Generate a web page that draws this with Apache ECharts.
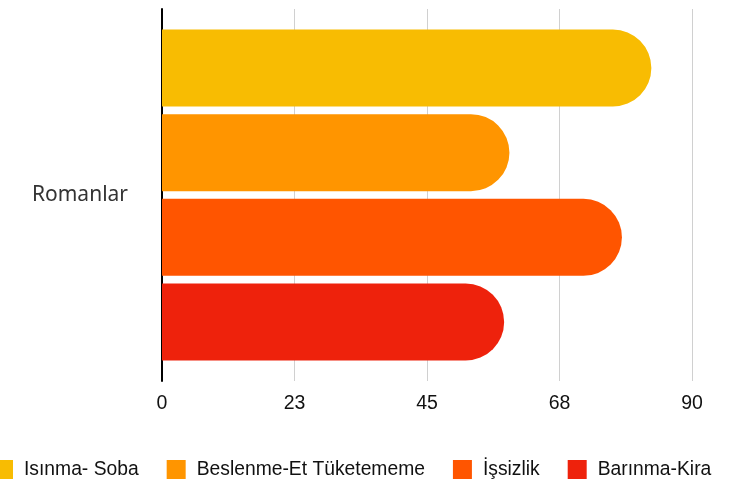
<!DOCTYPE html>
<html>
<head>
<meta charset="utf-8">
<script src="https://cdn.jsdelivr.net/npm/echarts@6/dist/echarts.min.js"></script>
<style>html,body{margin:0;padding:0;background:#fff}#c{width:729px;height:485px}</style>
</head>
<body>
<div id="c"></div>
<script>
var categories = ["Romanlar"];
var seriesNames = ["Isınma- Soba", "Beslenme-Et Tüketememe", "İşsizlik", "Barınma-Kira"];
var seriesValues = [[83.1], [59.0], [78.1], [58.1]];
var colors = ["#F8BC02", "#FF9500", "#FF5500", "#EE220C"];
var xTicks = [0, 22.5, 45, 67.5, 90];

var chart = echarts.init(document.getElementById('c'));
var series = seriesNames.map(function (n, i) {
  return {
    name: n,
    type: 'bar',
    data: seriesValues[i],
    barWidth: 77,
    barGap: '10%',
    itemStyle: { color: colors[i], borderRadius: [0, 39, 39, 0] }
  };
});
chart.setOption({
  animation: false,
  color: colors,
  grid: { left: 162, right: 37, top: 9, bottom: 104 },
  legend: {
    top: 455,
    left: -11,
    itemWidth: 19,
    itemHeight: 19,
    itemGap: 28,
    icon: 'rect',
    textStyle: { fontFamily: 'Liberation Sans', fontSize: 19.3, color: '#111', padding: [0, 0, 0, 6] },
    data: seriesNames
  },
  xAxis: {
    type: 'value',
    min: 0, max: 90, interval: 22.5,
    axisLine: { show: false },
    axisTick: { show: false },
    splitLine: { lineStyle: { color: '#d0d0d0', width: 1 } },
    axisLabel: {
      margin: 13,
      fontFamily: 'Liberation Sans', fontSize: 19.5, color: '#111',
      formatter: function (v) { return String(Math.round(v)); }
    }
  },
  yAxis: {
    type: 'category',
    inverse: true,
    data: categories,
    axisLine: { lineStyle: { color: '#000', width: 2 } },
    axisTick: { show: false },
    axisLabel: { margin: 34, fontFamily: 'Noto Sans', fontSize: 21, color: '#333' }
  },
  series: series
});
</script>
</body>
</html>
